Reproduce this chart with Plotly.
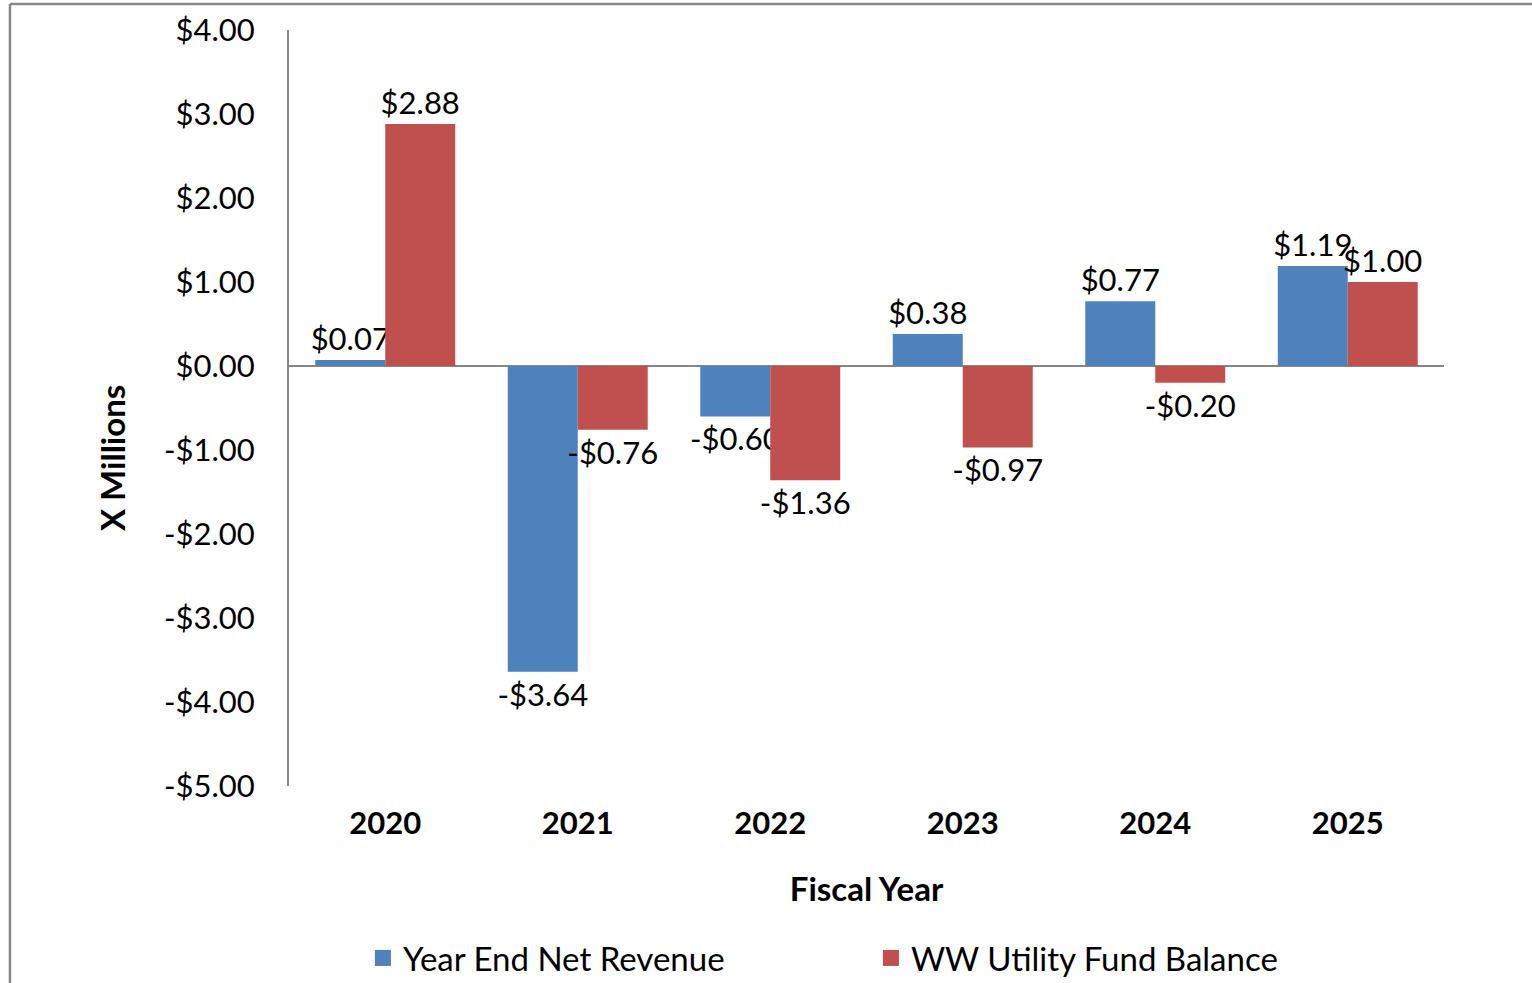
import plotly.graph_objects as go

years = ["2020", "2021", "2022", "2023", "2024", "2025"]
net_revenue = [0.07, -3.64, -0.60, 0.38, 0.77, 1.19]
fund_balance = [2.88, -0.76, -1.36, -0.97, -0.20, 1.00]
y_ticks = [4, 3, 2, 1, 0, -1, -2, -3, -4, -5]

FONT = "Lato"
BLUE = "#4F81BD"
RED = "#C0504D"


def money(v):
    return f"-${abs(v):.2f}" if v < 0 else f"${v:.2f}"


fig = go.Figure()
fig.add_trace(go.Bar(
    x=years, y=net_revenue, name="Year End Net Revenue", showlegend=False,
    marker=dict(color=BLUE, line=dict(width=0)),
    text=[money(v) for v in net_revenue], textposition="outside",
    textfont=dict(family=FONT, size=31, color="black"),
    constraintext="none", cliponaxis=False,
))
fig.add_trace(go.Bar(
    x=years, y=fund_balance, name="WW Utility Fund Balance", showlegend=False,
    marker=dict(color=RED, line=dict(width=0)),
    text=[money(v) for v in fund_balance], textposition="outside",
    textfont=dict(family=FONT, size=31, color="black"),
    constraintext="none", cliponaxis=False,
))
# legend entries with larger square swatches
for name, col in [("Year End Net Revenue", BLUE), ("WW Utility Fund Balance", RED)]:
    fig.add_trace(go.Scatter(
        x=[None], y=[None], mode="markers", name=name,
        marker=dict(symbol="square", size=20, color=col),
    ))

fig.update_layout(
    width=1532, height=983,
    margin=dict(l=289, r=88, t=30, b=197, autoexpand=False),
    paper_bgcolor="white", plot_bgcolor="white",
    barmode="group", bargap=0.273, bargroupgap=0,
    font=dict(family=FONT, size=31, color="black"),
    showlegend=True,
    legend=dict(
        orientation="h", x=0.064, xanchor="left", y=-0.2275, yanchor="middle",
        font=dict(family=FONT, size=33, color="black"),
        entrywidth=463, entrywidthmode="pixels",
        itemwidth=30,
    ),
    xaxis=dict(
        showline=False, showgrid=False, ticks="",
        tickfont=dict(family=FONT, size=31, color="black", weight="bold"),
        ticklabelstandoff=16,
        title=dict(text="<b>Fiscal Year</b>", font=dict(family=FONT, size=33, color="black"), standoff=37),
    ),
    yaxis=dict(
        range=[-5, 4], tickvals=y_ticks, ticktext=[money(v) for v in y_ticks],
        showgrid=False, showline=True, linecolor="#868686", linewidth=2,
        zeroline=True, zerolinecolor="#868686", zerolinewidth=2,
        ticks="", ticklabelstandoff=26,
        tickfont=dict(family=FONT, size=31, color="black"),
    ),
    annotations=[
        dict(text="<b>X Millions</b>", xref="paper", yref="paper", x=-0.1532, y=0.4339,
             xanchor="center", yanchor="middle", textangle=-90, showarrow=False,
             font=dict(family=FONT, size=33, color="black")),
    ],
    shapes=[
        dict(type="line", xref="paper", yref="paper", x0=-0.2416, x1=1.1, y0=1.0344, y1=1.0344,
             line=dict(color="#878787", width=2.5)),
        dict(type="line", xref="paper", yref="paper", x0=-0.2416, x1=-0.2416, y0=1.0344, y1=-0.27,
             line=dict(color="#878787", width=2.5)),
    ],
)

fig.write_html("out.html", config={"displayModeBar": False},
               post_script="document.body.style.margin='0';")
